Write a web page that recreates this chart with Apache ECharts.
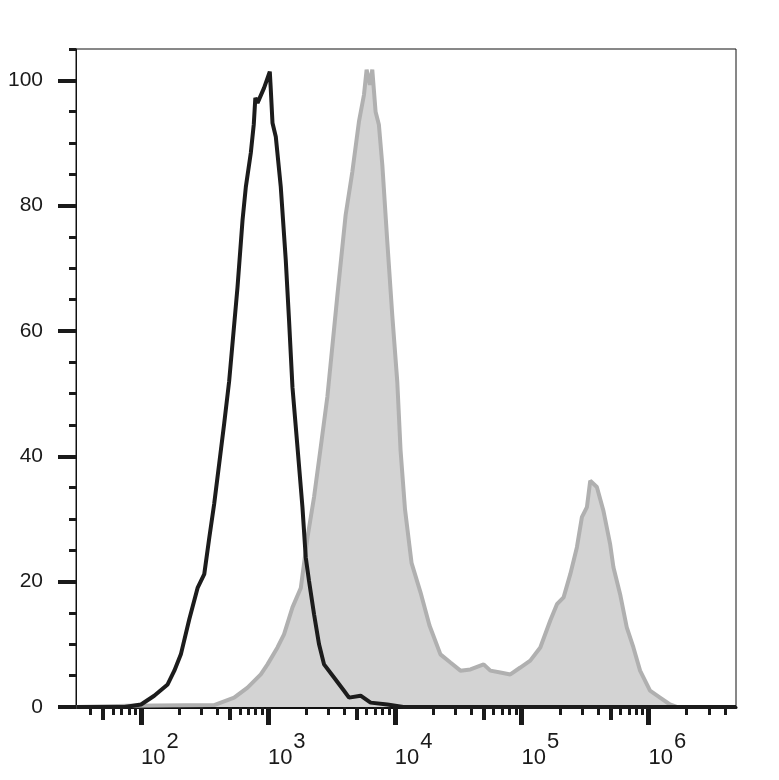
<!DOCTYPE html>
<html>
<head>
<meta charset="utf-8">
<script src="https://cdn.jsdelivr.net/npm/echarts@6/dist/echarts.min.js"></script>
<style>
html,body{margin:0;padding:0;background:#fff;}
#chart{width:779px;height:780px;}
</style>
</head>
<body>
<div id="chart"></div>
<script>
// Isotype control (black outline): fluorescence intensity / % of max
const controlX = [31, 74, 100, 127, 162, 183, 206, 240, 279, 315, 345, 377, 413, 452, 495, 576, 631, 670, 733, 774, 796, 829, 933, 1035, 1054, 1087, 1154, 1263, 1383, 1468, 1562, 1710, 1872, 1987, 2110, 2311, 2530, 2770, 3320, 3980, 4360, 5380, 6450, 8730, 11700, 4900000];
const controlY = [0, 0, 0.4, 1.8, 3.6, 5.8, 8.4, 14, 19, 21.2, 27, 32.4, 38.8, 45.2, 52, 67, 77.7, 83, 88.4, 93, 97.2, 96.4, 98.8, 101.4, 98.5, 93.2, 91, 83, 71.3, 61.7, 51, 41.5, 31.9, 23.9, 20.1, 14.8, 10, 6.8, 4.7, 2.6, 1.5, 1.8, 0.7, 0.4, 0, 0];

// Stained sample (grey filled)
const sampleX = [31, 79, 377, 542, 691, 879, 993, 1190, 1340, 1562, 1817, 2050, 2311, 2610, 2943, 3530, 4100, 4630, 5220, 5720, 6000, 6370, 6650, 7060, 7500, 7980, 8730, 9560, 10470, 11110, 12050, 13560, 15960, 18790, 22910, 27460, 32940, 39490, 50240, 56720, 67990, 81500, 97700, 117000, 140400, 168300, 190000, 214300, 242000, 273000, 298800, 327400, 347600, 392000, 441800, 498700, 529500, 597900, 674600, 761000, 859000, 1029000, 1234000, 1478000, 1671000, 4900000];
const sampleY = [0, 0.2, 0.3, 1.5, 3.1, 5.2, 6.8, 9.5, 11.6, 15.9, 19, 27, 33.5, 41.5, 49.5, 65.7, 78.5, 85.4, 93.4, 97.7, 101.7, 99.3, 101.7, 95, 92.9, 86.5, 74.3, 62.5, 51.9, 41, 31.5, 23, 18.3, 13, 8.4, 7.1, 5.8, 6.0, 6.8, 5.8, 5.5, 5.2, 6.3, 7.4, 9.5, 13.8, 16.4, 17.5, 21.2, 25.5, 30.3, 31.9, 36.1, 35.1, 31.3, 26, 22.3, 18, 12.7, 9.5, 5.8, 2.6, 1.5, 0.4, 0, 0];

// Axis ticks
const xMin = 30.7, xMax = 4900000;
const xMajorTicks = [100, 1000, 10000, 100000, 1000000];
const xMediumTicks = [50, 500, 5000, 50000, 500000];
const xMinorTicks = [40, 60, 70, 80, 90, 200, 300, 400, 600, 700, 800, 900, 2000, 3000, 4000, 6000, 7000, 8000, 9000, 20000, 30000, 40000, 60000, 70000, 80000, 90000, 200000, 300000, 400000, 600000, 700000, 800000, 900000, 2000000, 3000000, 4000000];
const yMin = 0, yMax = 105;
const yMajorTicks = [0, 20, 40, 60, 80, 100];
const yMinorTicks = [5, 10, 15, 25, 30, 35, 45, 50, 55, 65, 70, 75, 85, 90, 95, 105];

const FONT = '"Liberation Sans", Arial, sans-serif';
const zip = (xs, ys) => xs.map((x, i) => [x, ys[i]]);

const chart = echarts.init(document.getElementById('chart'), null, {renderer: 'canvas'});

function xAxisDef(ticks, len, width, showMain) {
  return {
    type: 'log', logBase: 10, min: xMin, max: xMax, position: 'bottom', offset: 0, gridIndex: 0,
    axisLine: {show: showMain, onZero: false, lineStyle: {color: '#111', width: 3}},
    axisTick: {show: true, inside: false, length: len, customValues: ticks, lineStyle: {color: '#1a1a1a', width: width}},
    axisLabel: showMain ? {
      show: true, customValues: xMajorTicks, align: 'left', verticalAlign: 'top', margin: 24, color: '#1a1a1a',
      fontSize: 22, fontFamily: FONT,
      formatter: v => '{base|10}{sup|' + Math.round(Math.log10(v)) + '}{gap| }',
      rich: {
        base: {fontSize: 22, fontFamily: FONT, color: '#1a1a1a', verticalAlign: 'bottom'},
        sup: {fontSize: 22, fontFamily: FONT, color: '#1a1a1a', verticalAlign: 'top', padding: [0, 0, 0, 1]},
        gap: {fontSize: 2, lineHeight: 38, verticalAlign: 'bottom'}
      }
    } : {show: false},
    splitLine: {show: false}, minorTick: {show: false}
  };
}
function yAxisDef(ticks, len, width, showMain) {
  return {
    type: 'value', min: yMin, max: yMax, position: 'left', offset: 0, gridIndex: 0,
    axisLine: {show: showMain, lineStyle: {color: '#111', width: 1}},
    axisTick: {show: true, inside: false, length: len, customValues: ticks, lineStyle: {color: '#1a1a1a', width: width}},
    axisLabel: showMain ? {show: true, customValues: yMajorTicks, margin: 33, fontSize: 21, fontFamily: FONT, color: '#1a1a1a'} : {show: false},
    splitLine: {show: false}
  };
}

chart.setOption({
  backgroundColor: '#ffffff',
  animation: false,
  grid: {left: 76, right: 43, top: 49, bottom: 73, show: true, borderColor: '#111', borderWidth: 1, backgroundColor: 'transparent', containLabel: false, outerBoundsMode: 'none'},
  xAxis: [
    xAxisDef(xMajorTicks, 18, 5, true),
    xAxisDef(xMediumTicks, 13, 4, false),
    xAxisDef(xMinorTicks, 8, 3, false)
  ],
  yAxis: [
    yAxisDef(yMajorTicks, 18, 4, true),
    yAxisDef(yMinorTicks, 7, 3, false)
  ],
  series: [
    {
      name: 'Sample', type: 'line', xAxisIndex: 0, yAxisIndex: 0,
      data: zip(sampleX, sampleY), showSymbol: false, smooth: false,
      lineStyle: {color: '#b0b0b0', width: 4},
      areaStyle: {color: '#d3d3d3', opacity: 1},
      z: 2
    },
    {
      name: 'Control', type: 'line', xAxisIndex: 0, yAxisIndex: 0,
      data: zip(controlX, controlY), showSymbol: false, smooth: false,
      lineStyle: {color: '#1c1c1c', width: 4},
      z: 3
    }
  ]
});
</script>
</body>
</html>
